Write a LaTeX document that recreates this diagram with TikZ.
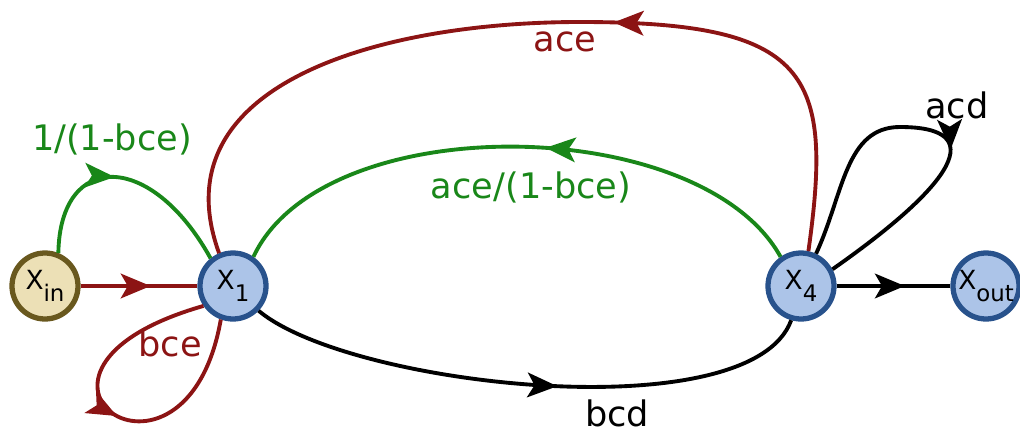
\documentclass[tikz,border=0pt]{standalone}
\usepackage{fontspec}
\setmainfont{DejaVu Sans}
\usetikzlibrary{arrows.meta,decorations.markings}
\definecolor{sfgred}{RGB}{140,20,20}
\definecolor{sfggreen}{RGB}{25,135,25}
\definecolor{sfgsand}{RGB}{236,224,182}
\definecolor{sfgolive}{RGB}{105,88,30}
\definecolor{sfgblue}{RGB}{172,196,232}
\definecolor{sfgnavy}{RGB}{40,82,140}
\newcommand{\nodesub}[2]{{\fontsize{15}{17}\selectfont #1}\raisebox{-7pt}{\fontsize{13}{14}\selectfont #2}}

\begin{document}
\begin{tikzpicture}[every node/.style={font=\fontsize{20}{24}\selectfont}]
  \tikzset{
    state/.style={circle, draw=sfgnavy, fill=sfgblue, line width=3pt, minimum size=1.32cm, inner sep=0pt},
    source/.style={state, draw=sfgolive, fill=sfgsand},
    branch/.style={line width=2.2pt},
    midarrow/.style={postaction={decorate}, decoration={markings,
      mark=at position #1 with {\arrow{Stealth[length=17pt,width=14pt,inset=4pt]}}}}
  }
  \useasboundingbox (0,0) rectangle (20.4,8.68);

  % Nodes
  \node[source] (xin)  at (0.9, 2.96)   {\nodesub{X}{in}};
  \node[state]  (x1)   at (4.66, 2.96)  {\nodesub{X}{1}};
  \node[state]  (x4)   at (16.02, 2.96) {\nodesub{X}{4}};
  \node[state]  (xout) at (19.72, 2.96) {\nodesub{X}{out}};
  \coordinate (acetop) at (11.6, 8.24);
  \coordinate (acdtop) at (18.0, 6.14);

  % Red branches
  \draw[branch, sfgred, midarrow=0.6] (xin) -- (x1);
  \draw[branch, sfgred, midarrow=0.52] (x1.214)
    to[out=196, in=260, out distance=4.8cm, in distance=4.1cm] (x1.250);
  \draw[branch, sfgred, midarrow=0.41] (x4.78)
    to[out=82, in=0, out distance=3.6cm, in distance=4.6cm] (acetop)
    to[out=180, in=110, out distance=4cm, in distance=3.6cm] (x1.113);

  % Green branches
  \draw[branch, sfggreen, midarrow=0.45] (xin.68)
    to[out=89, in=119, out distance=2.04cm, in distance=2.47cm] (x1.129);
  \draw[branch, sfggreen, midarrow=0.45] (x4.125)
    to[out=119, in=65, distance=3.3cm] (x1.55);

  % Black branches
  \draw[branch, midarrow=0.55] (x1.-44)
    to[out=-40, in=-110, distance=2.36cm] (x4.-106);
  \draw[branch, midarrow=0.565] (x4.65)
    to[out=65, in=180, out distance=1.3cm, in distance=1.1cm] (acdtop)
    to[out=0, in=35, out distance=1.8cm, in distance=3cm] (x4.28);
  \draw[branch, midarrow=0.6] (x4) -- (xout);

  % Labels
  \node[text=sfggreen] (lin)  at (2.24, 5.9)   {1/(1-bce)};
  \node[text=sfgred]   (lbce) at (3.4, 1.82)   {bce};
  \node[text=sfgred]   (lace) at (11.3, 7.84)  {ace};
  \node[text=sfggreen] (lfb)  at (10.62, 4.94) {ace/(1-bce)};
  \node                (lbcd) at (12.34, 0.42) {bcd};
  \node                (lacd) at (19.14, 6.58) {acd};
\end{tikzpicture}
\end{document}
